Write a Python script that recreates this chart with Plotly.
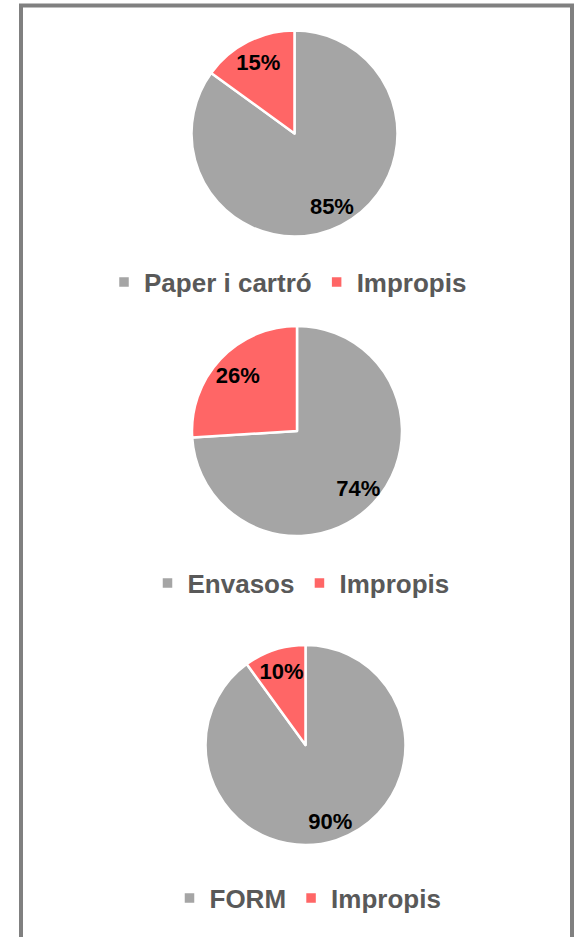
import plotly.graph_objects as go

labels_paper = ["Paper i cartró", "Impropis"]
values_paper = [85, 15]
labels_env = ["Envasos", "Impropis\u200b"]
values_env = [74, 26]
labels_form = ["FORM", "Impropis\u200b\u200b"]
values_form = [90, 10]

colors = ["#A5A5A5", "#FF6666"]
clear = ["rgba(0,0,0,0)", "rgba(0,0,0,0)"]

W, H = 577, 937
FONT = "Liberation Sans, Arial, sans-serif"

# pie geometry in pixels (center x, center y, radius), legend id, legend center (x, y)
pies = [
    (labels_paper, values_paper, (294.5, 133.5, 103), "legend", (288, 282)),
    (labels_env, values_env, (297, 431, 105), "legend2", (301, 583)),
    (labels_form, values_form, (305.5, 745, 100), "legend3", (308, 898)),
]

textfont = dict(family=FONT, size=22, color="black", weight="bold")


def domain(cx, cy, r):
    return dict(x=[(cx - r) / W, (cx + r) / W],
                y=[1 - (cy + r) / H, 1 - (cy - r) / H])


fig = go.Figure()
for labels, values, (cx, cy, r), leg, _ in pies:
    base = dict(labels=labels, values=values, sort=False, direction="clockwise",
                rotation=0, hoverinfo="skip")
    # visible pie + legend
    fig.add_trace(go.Pie(**base, domain=domain(cx, cy, r), textinfo="none",
                         showlegend=True, legend=leg,
                         marker=dict(colors=colors, line=dict(color="white", width=2.5))))
    # transparent helper carrying the label of the large slice (placed near the rim)
    fig.add_trace(go.Pie(**base, domain=domain(cx, cy, 1.25 * r), hole=0.28,
                         texttemplate=["%{percent:.0%}", ""],
                         textposition="inside", insidetextorientation="horizontal",
                         textfont=textfont, showlegend=False,
                         marker=dict(colors=clear, line=dict(width=0))))
    # transparent helper carrying the label of the small slice
    fig.add_trace(go.Pie(**base, domain=domain(cx, cy, r), hole=0.55,
                         texttemplate=["", "%{percent:.0%}"],
                         textposition="inside", insidetextorientation="horizontal",
                         textfont=textfont, showlegend=False,
                         marker=dict(colors=clear, line=dict(width=0))))

legend_style = dict(orientation="h", xanchor="center", yanchor="middle",
                    font=dict(family=FONT, size=26, color="#595959", weight="bold"),
                    bgcolor="rgba(0,0,0,0)", itemwidth=30)
legs = {}
for _, _, _, leg, (lx, ly) in pies:
    legs[leg] = dict(**legend_style, x=lx / W, y=1 - ly / H)

fig.update_layout(
    width=W, height=H,
    margin=dict(l=0, r=0, t=0, b=0),
    paper_bgcolor="white",
    uniformtext=dict(minsize=22, mode="show"),
    shapes=[dict(type="rect", xref="paper", yref="paper",
                 x0=21 / W, x1=572 / W, y0=-0.02, y1=1 - 5.5 / H,
                 line=dict(color="#808080", width=4), fillcolor="rgba(0,0,0,0)")],
    **legs,
)

fig.write_html("out.html", config={"displayModeBar": False},
               post_script="document.body.style.margin='0';document.body.style.overflow='hidden';")
